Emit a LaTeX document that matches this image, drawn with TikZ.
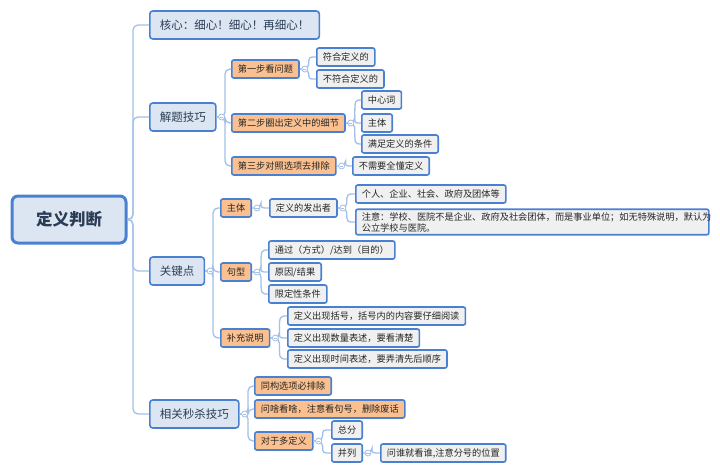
\documentclass[tikz,border=0pt]{standalone}
\usepackage{fontspec}
\setmainfont{Noto Sans CJK SC}
\definecolor{linkc}{HTML}{A3C0E8}
\definecolor{framec}{HTML}{4A80D2}
\definecolor{topicc}{HTML}{DCE6F2}
\definecolor{stagec}{HTML}{FAC090}
\definecolor{leafc}{HTML}{F0F0F0}
\definecolor{inkc}{HTML}{2B3D55}

\begin{document}
\begin{tikzpicture}[
        x=1pt,
        y=-1pt,
        link/.style={draw=linkc, line width=1.3pt, rounded corners=5pt},
        rootbox/.style={draw=framec, line width=3pt, fill=topicc, rounded corners=6pt,
            minimum width=114pt, minimum height=47pt, text=inkc,
            font=\fontsize{16.5}{18}\selectfont\bfseries},
        mainbox/.style={draw=framec, line width=1.6pt, fill=topicc, rounded corners=3pt,
            anchor=west, minimum height=28pt, inner xsep=10pt, text=inkc,
            font=\fontsize{11.5}{13}\selectfont},
        stagebox/.style={draw=framec, line width=1.6pt, fill=stagec, rounded corners=2pt,
            anchor=west, minimum height=18pt, inner xsep=6pt, inner ysep=2pt, text=black!85,
            font=\fontsize{9.2}{11}\selectfont},
        leafbox/.style={stagebox, fill=leafc},
        fold/.style={circle, draw=linkc, fill=white, line width=0.8pt, minimum size=6pt,
            inner sep=0pt, path picture={
                \draw[linkc, line width=0.6pt]
                    ([xshift=-1.6pt]path picture bounding box.center)
                    -- ([xshift=1.6pt]path picture bounding box.center);
            }}
    ]
    \useasboundingbox (0,0) rectangle (720,474);

    % root and first level
    \node[rootbox] (root) at (69,219.5) {定义判断};
    \node[mainbox] (core) at (149,25) {核心：细心！细心！再细心！};
    \node[mainbox] (tips) at (149,117) {解题技巧};
    \node[mainbox] (keys) at (149,271) {关键点};
    \node[mainbox] (fast) at (149,414) {相关秒杀技巧};

    % 解题技巧
    \node[stagebox] (st1) at (231,69) {第一步看问题};
    \node[stagebox] (st2) at (231,123) {第二步圈出定义中的细节};
    \node[stagebox] (st3) at (231,166) {第三步对照选项去排除};
    \node[leafbox] (fit) at (316,57) {符合定义的};
    \node[leafbox] (unfit) at (316,79) {不符合定义的};
    \node[leafbox] (word) at (361,100) {中心词};
    \node[leafbox] (subj) at (361,123) {主体};
    \node[leafbox] (cond) at (361,144) {满足定义的条件};
    \node[leafbox] (nofull) at (352,166) {不需要全懂定义};

    % 关键点
    \node[stagebox] (who) at (220,208) {主体};
    \node[stagebox] (form) at (220,272) {句型};
    \node[stagebox] (note) at (220,338) {补充说明};
    \node[leafbox] (issuer) at (269,208) {定义的发出者};
    \node[leafbox] (group) at (355,194) {个人、企业、社会、政府及团体等};
    \node[leafbox, text width=341pt, align=left, inner ysep=3pt] (warn) at (355,222)
        {注意：学校、医院不是企业、政府及社会团体，而是事业单位；如无特殊说明，默认为\\公立学校与医院。};
    \node[leafbox] (means) at (268,250) {通过（方式）/达到（目的）};
    \node[leafbox] (cause) at (268,272) {原因/结果};
    \node[leafbox] (limit) at (268,294) {限定性条件};
    \node[leafbox] (brack) at (287,316) {定义出现括号，括号内的内容要仔细阅读};
    \node[leafbox] (count) at (287,338) {定义出现数量表述，要看清楚};
    \node[leafbox] (time) at (287,359) {定义出现时间表述，要弄清先后顺序};

    % 相关秒杀技巧
    \node[stagebox] (same) at (254,386) {同构选项必排除};
    \node[stagebox] (ask) at (254,409) {问啥看啥，注意看句号，删除废话};
    \node[stagebox] (multi) at (254,441) {对于多定义};
    \node[leafbox] (total) at (331,430) {总分};
    \node[leafbox] (para) at (331,453) {并列};
    \node[leafbox] (semi) at (380,453) {问谁就看谁,注意分号的位置};

    % elbow links
    \coordinate (rootj) at (133,219.5);
    \foreach \n in {core, tips, keys, fast}
        \draw[link] (root.east) -- (rootj) |- (\n.west);
    \coordinate (tipsj) at (225,117);
    \foreach \n in {st1, st2, st3}
        \draw[link] (tips.east) -- (tipsj) |- (\n.west);
    \coordinate (keysj) at (213,271);
    \foreach \n in {who, form, note}
        \draw[link] (keys.east) -- (keysj) |- (\n.west);
    \coordinate (fastj) at (248,414);
    \foreach \n in {same, ask, multi}
        \draw[link] (fast.east) -- (fastj) |- (\n.west);

    % curved links
    \foreach \p/\kids in {st1/{fit,unfit}, st2/{word,subj,cond}, st3/{nofull},
            who/{issuer}, issuer/{group,warn}, form/{means,cause,limit},
            note/{brack,count,time}, multi/{total,para}, para/{semi}} {
        \coordinate (\p j) at ([xshift=9pt]\p.east);
        \foreach \k in \kids
            \draw[link] (\p.east) -- (\p j) .. controls (\p j |- \k.west) .. (\k.west);
    }

    % fold marks
    \foreach \p in {tips, keys, fast, st1, st2, st3, who, issuer, form, note, multi, para}
        \node[fold] (\p f) at ([xshift=5pt]\p.east) {};
\end{tikzpicture}
\end{document}
